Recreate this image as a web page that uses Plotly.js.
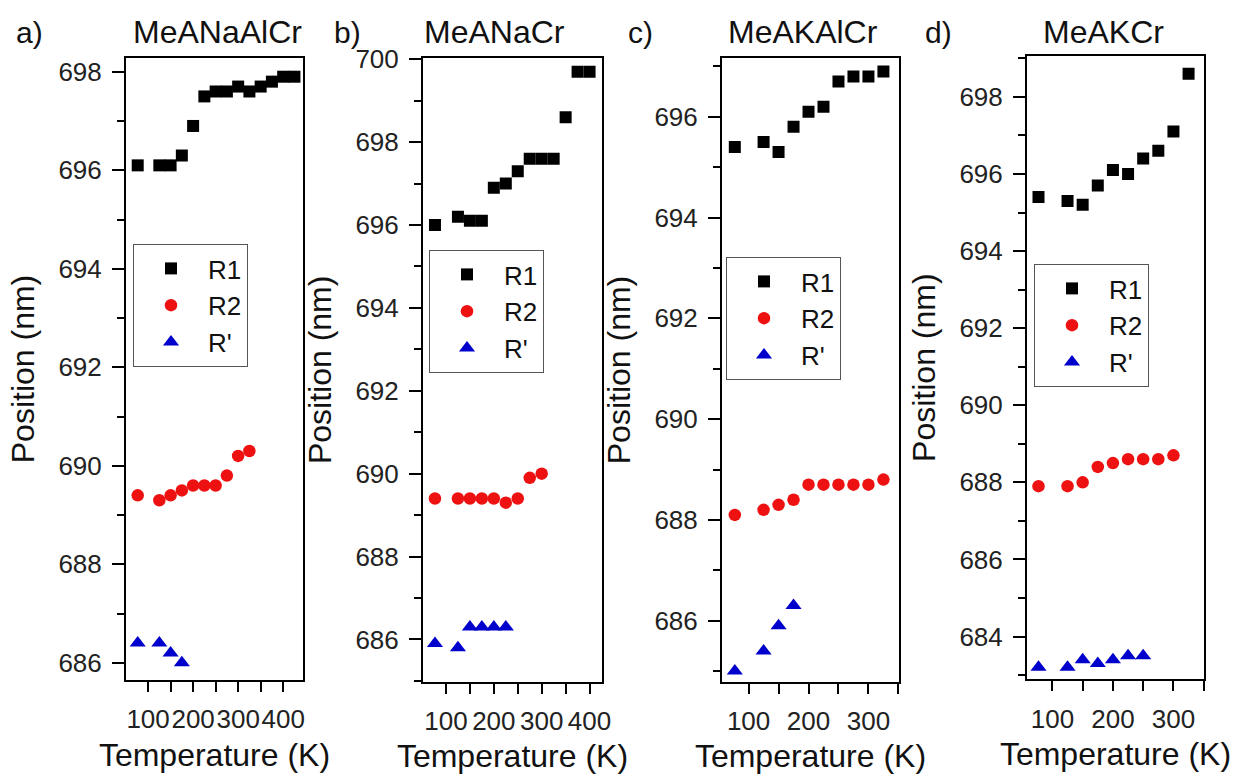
<!DOCTYPE html>
<html>
<head>
<meta charset="utf-8">
<script src="https://cdn.plot.ly/plotly-3.0.1.min.js"></script>
<style>html,body{margin:0;padding:0;background:#fff;}#chart{width:1237px;height:779px;}</style>
</head>
<body>
<div id="chart"></div>
<script>
// ---- Data ----
const panelTitles = ["MeANaAlCr", "MeANaCr", "MeAKAlCr", "MeAKCr"];
const panelLabels = ["a)", "b)", "c)", "d)"];
const seriesNames = ["R1", "R2", "R'"];

// a) MeANaAlCr
const T_A_R1 = [77, 125, 150, 175, 200, 225, 250, 275, 300, 325, 350, 375, 400, 425];
const A_R1 = [696.1, 696.1, 696.1, 696.3, 696.9, 697.5, 697.6, 697.6, 697.7, 697.6, 697.7, 697.8, 697.9, 697.9];
const T_A_R2 = [77, 125, 150, 175, 200, 225, 250, 275, 300, 325];
const A_R2 = [689.4, 689.3, 689.4, 689.5, 689.6, 689.6, 689.6, 689.8, 690.2, 690.3];
const T_A_RP = [77, 125, 150, 175];
const A_RP = [686.4, 686.4, 686.2, 686.0];

// b) MeANaCr
const T_B_R1 = [77, 125, 150, 175, 200, 225, 250, 275, 300, 325, 350, 375, 400];
const B_R1 = [696.0, 696.2, 696.1, 696.1, 696.9, 697.0, 697.3, 697.6, 697.6, 697.6, 698.6, 699.7, 699.7];
const T_B_R2 = [77, 125, 150, 175, 200, 225, 250, 275, 300];
const B_R2 = [689.4, 689.4, 689.4, 689.4, 689.4, 689.3, 689.4, 689.9, 690.0];
const T_B_RP = [77, 125, 150, 175, 200, 225];
const B_RP = [685.9, 685.8, 686.3, 686.3, 686.3, 686.3];

// c) MeAKAlCr
const T_C_R1 = [77, 125, 150, 175, 200, 225, 250, 275, 300, 325];
const C_R1 = [695.4, 695.5, 695.3, 695.8, 696.1, 696.2, 696.7, 696.8, 696.8, 696.9];
const T_C_R2 = [77, 125, 150, 175, 200, 225, 250, 275, 300, 325];
const C_R2 = [688.1, 688.2, 688.3, 688.4, 688.7, 688.7, 688.7, 688.7, 688.7, 688.8];
const T_C_RP = [77, 125, 150, 175];
const C_RP = [685.0, 685.4, 685.9, 686.3];

// d) MeAKCr
const T_D_R1 = [77, 125, 150, 175, 200, 225, 250, 275, 300, 325];
const D_R1 = [695.4, 695.3, 695.2, 695.7, 696.1, 696.0, 696.4, 696.6, 697.1, 698.6];
const T_D_R2 = [77, 125, 150, 175, 200, 225, 250, 275, 300];
const D_R2 = [687.9, 687.9, 688.0, 688.4, 688.5, 688.6, 688.6, 688.6, 688.7];
const T_D_RP = [77, 125, 150, 175, 200, 225, 250];
const D_RP = [683.2, 683.2, 683.4, 683.3, 683.4, 683.5, 683.5];

const xTitle = "Temperature (K)";
const yTitle = "Position (nm)";

// ---- Layout geometry (pixels) ----
const W = 1237, H = 779;
const boxes = [
  {x0: 126, x1: 303, y0: 58, y1: 680, xr: [51, 444], yr: [685.65, 698.28], leg: [133, 244]},
  {x0: 423, x1: 602, y0: 58, y1: 681.7, xr: [52, 426], yr: [684.98, 700.03], leg: [429, 250]},
  {x0: 722, x1: 899, y0: 58.3, y1: 681.7, xr: [55.6, 351], yr: [684.79, 697.16], leg: [726, 257]},
  {x0: 1027, x1: 1204, y0: 56, y1: 679.3, xr: [58, 350.5], yr: [682.89, 699.06], leg: [1034, 264]}
];
const titlePos = [[217, 32], [494, 32], [803, 32], [1103, 32]];
const labelPos = [[29, 32], [347, 32], [641, 32], [938, 32]];

const dataSets = [
  [[T_A_R1, A_R1], [T_A_R2, A_R2], [T_A_RP, A_RP]],
  [[T_B_R1, B_R1], [T_B_R2, B_R2], [T_B_RP, B_RP]],
  [[T_C_R1, C_R1], [T_C_R2, C_R2], [T_C_RP, C_RP]],
  [[T_D_R1, D_R1], [T_D_R2, D_R2], [T_D_RP, D_RP]]
];
const markerStyles = [
  {symbol: "square", size: 12, color: "#000000"},
  {symbol: "circle", size: 12.5, color: "#ee1111"},
  {symbol: "triangle-up", size: 14, color: "#0000cc"}
];

const FONT = "Liberation Sans, Arial, sans-serif";
const traces = [];
const layout = {
  width: W, height: H,
  margin: {l: 0, r: 0, t: 0, b: 0},
  paper_bgcolor: "#fff", plot_bgcolor: "#fff",
  font: {family: FONT, color: "#111"},
  showlegend: true,
  annotations: []
};

boxes.forEach((b, i) => {
  const n = i + 1;
  const xa = n === 1 ? "x" : "x" + n;
  const ya = n === 1 ? "y" : "y" + n;
  const lg = n === 1 ? "legend" : "legend" + n;
  dataSets[i].forEach((ds, k) => {
    traces.push({
      type: "scatter", mode: "markers",
      x: ds[0], y: ds[1], name: seriesNames[k],
      xaxis: xa, yaxis: ya, legend: lg,
      marker: {symbol: markerStyles[k].symbol, size: markerStyles[k].size, color: markerStyles[k].color, line: {width: 0}}
    });
  });
  const common = {
    showline: true, mirror: true, linecolor: "#000", linewidth: 2,
    ticks: "outside", tickcolor: "#000", tickwidth: 2,
    showgrid: false, zeroline: false,
    tickfont: {family: FONT, size: 26, color: "#222"}
  };
  layout["xaxis" + (n === 1 ? "" : n)] = Object.assign({}, common, {
    domain: [b.x0 / W, b.x1 / W], anchor: ya, range: b.xr,
    dtick: 100, tick0: 0, ticklen: 10, ticklabelstandoff: 5, tickangle: 0,
    minor: {dtick: 50, tick0: 0, ticklen: 10, tickwidth: 2, tickcolor: "#000", ticks: "outside"},
    title: {text: xTitle, font: {family: FONT, size: 32, color: "#111"}, standoff: 10}
  });
  layout["yaxis" + (n === 1 ? "" : n)] = Object.assign({}, common, {
    domain: [1 - b.y1 / H, 1 - b.y0 / H], anchor: xa, range: b.yr,
    dtick: 2, tick0: 0, ticklen: 12, ticklabelstandoff: 5,
    minor: {dtick: 1, tick0: 0, ticklen: 7, tickwidth: 2, tickcolor: "#000", ticks: "outside"},
    title: {text: yTitle, font: {family: FONT, size: 32, color: "#111"}, standoff: 14}
  });
  layout[lg] = {
    x: b.leg[0] / W, y: 1 - b.leg[1] / H, xanchor: "left", yanchor: "top",
    bgcolor: "#fff", bordercolor: "#555", borderwidth: 1,
    font: {family: FONT, size: 26, color: "#111"},
    itemwidth: 64, tracegroupgap: 0
  };
  layout.annotations.push({
    text: panelTitles[i], xref: "paper", yref: "paper",
    x: titlePos[i][0] / W, y: 1 - titlePos[i][1] / H,
    xanchor: "center", yanchor: "middle", showarrow: false,
    font: {family: FONT, size: 32, color: "#111"}
  });
  layout.annotations.push({
    text: panelLabels[i], xref: "paper", yref: "paper",
    x: labelPos[i][0] / W, y: 1 - labelPos[i][1] / H,
    xanchor: "center", yanchor: "middle", showarrow: false,
    font: {family: FONT, size: 30, color: "#111"}
  });
});

Plotly.newPlot("chart", traces, layout, {displayModeBar: false, staticPlot: true});
</script>
</body>
</html>
